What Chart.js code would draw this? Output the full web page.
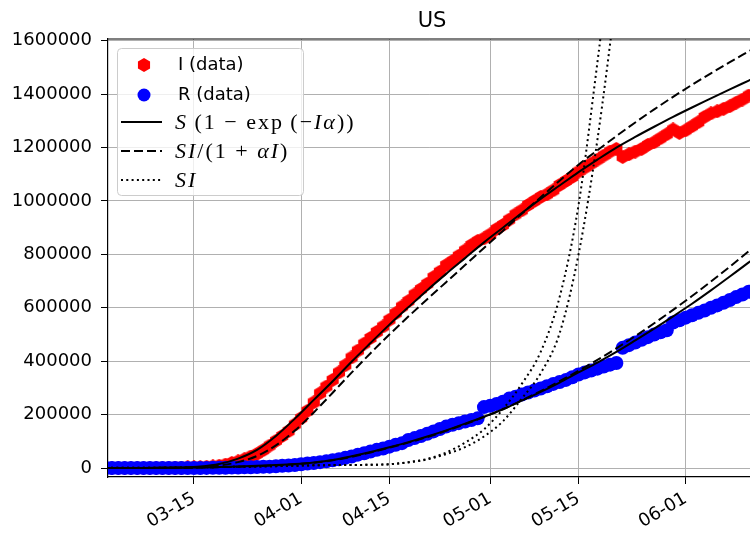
<!DOCTYPE html>
<html>
<head>
<meta charset="utf-8">
<title>US</title>
<script src="https://cdn.jsdelivr.net/npm/chart.js@4.4.1/dist/chart.umd.min.js"></script>
<style>
  html, body { margin: 0; padding: 0; background: #fff; }
  #wrap { width: 750px; height: 535px; }
</style>
</head>
<body>
<div id="wrap"><canvas id="chart" width="750" height="535"></canvas></div>
<script>
// day index 0 = 03-01, one value per day (03-01 .. 06-11)
const iData = [
    50, 70, 80, 100, 120, 160, 200, 300, 400, 500,
    900, 1200, 1600, 2100, 3000, 3700, 4500, 6300, 8800, 13000,
    19000, 25000, 33000, 43000, 53000, 67000, 84000, 102000, 120000, 138000,
    163000, 187000, 214000, 246000, 280000, 305000, 330000, 358000, 385000, 414000,
    440000, 466000, 487000, 510000, 530000, 555000, 580000, 605000, 625000, 650000,
    670000, 690000, 715000, 735000, 760000, 775000, 795000, 815000, 835000, 850000,
    860000, 875000, 895000, 910000, 930000, 950000, 965000, 985000, 1000000, 1015000,
    1025000, 1040000, 1060000, 1075000, 1090000, 1110000, 1125000, 1140000, 1155000, 1170000,
    1185000, 1195000, 1165000, 1175000, 1185000, 1195000, 1210000, 1220000, 1235000, 1250000,
    1268000, 1255000, 1265000, 1280000, 1295000, 1315000, 1328000, 1336000, 1345000, 1355000,
    1368000, 1380000, 1395000
];
const rData = [
    10, 10, 10, 10, 15, 20, 30, 40, 50, 60,
    80, 100, 120, 150, 200, 250, 350, 500, 650, 900,
    1500, 2000, 2500, 3000, 3500, 4500, 5000, 6500, 8000, 9500,
    11000, 14000, 17000, 19000, 22000, 25000, 29000, 33000, 38000, 43000,
    50000, 55000, 62000, 68000, 73000, 80000, 87000, 93000, 105000, 112000,
    120000, 128000, 137000, 146000, 155000, 162000, 168000, 174000, 180000, 186000,
    228000, 233000, 240000, 248000, 260000, 267000, 275000, 283000, 290000, 298000,
    306000, 315000, 322000, 330000, 340000, 350000, 358000, 365000, 372000, 380000,
    387000, 393000, 450000, 460000, 470000, 480000, 490000, 500000, 508000, 516000,
    545000, 553000, 563000, 572000, 581000, 590000, 600000, 609000, 619000, 629000,
    640000, 650000, 660000
];

// fitted curves, sampled every 3 days
const modelDays = [0, 3, 6, 9, 12, 15, 18, 21, 24, 27, 30, 33, 36, 39, 42, 45, 48, 51,
    54, 57, 60, 63, 66, 69, 72, 75, 78, 81, 84, 87, 90, 93, 96, 99, 102, 105];
const iExpFit = [0, 100, 300, 800, 2000, 5500, 15000, 35000, 68000, 120000, 185000, 255000,
    325000, 398000, 468000, 537000, 602000, 666000, 727000, 786000, 845000, 900000, 955000, 1008000,
    1058000, 1108000, 1155000, 1200000, 1240000, 1278000, 1315000, 1350000, 1384000, 1418000, 1451000, 1484000];
const iRatFit = [0, 50, 150, 400, 1000, 3000, 9000, 22000, 45000, 85000, 140000, 208000,
    282000, 357000, 430000, 500000, 567000, 632000, 696000, 760000, 824000, 888000, 952000, 1014000,
    1076000, 1136000, 1190000, 1243000, 1294000, 1343000, 1390000, 1435000, 1478000, 1520000, 1560000, 1600000];
const iLinFit = [500, 600, 800, 1200, 1800, 2500, 3500, 4500, 5500, 7000, 8500, 10000,
    11000, 11500, 12000, 14000, 22000, 34000, 58000, 95000, 145000, 220000, 315000, 435000,
    640000, 985000, 1520000, 2100000, null, null, null, null, null, null, null, null];
const rExpFit = [0, 100, 300, 600, 1200, 2000, 3500, 5500, 8000, 11000, 15000, 21000,
    30000, 44000, 60000, 78000, 97000, 118000, 141000, 166000, 192000, 220000, 252000, 285000,
    320000, 358000, 395000, 435000, 478000, 522000, 568000, 615000, 665000, 717000, 770000, 825000];
const rRatFit = [0, 80, 250, 500, 1000, 1700, 3000, 4800, 7000, 10000, 14000, 20000,
    29000, 42000, 58000, 76000, 95000, 116000, 139000, 164000, 191000, 220000, 253000, 288000,
    325000, 364000, 405000, 448000, 494000, 542000, 592000, 644000, 698000, 754000, 812000, 872000];
const rLinFit = [500, 600, 800, 1200, 1800, 2500, 3500, 4500, 5500, 7000, 8500, 10000,
    11000, 11500, 12000, 14000, 21000, 32000, 52000, 78000, 118000, 175000, 260000, 355000,
    505000, 800000, 1230000, 1780000, 2400000, null, null, null, null, null, null, null];

const tickDays = [14, 31, 45, 61, 75, 92];
const tickLabels = ['03-15', '04-01', '04-15', '05-01', '05-15', '06-01'];
const yTicks = [0, 200000, 400000, 600000, 800000, 1000000, 1200000, 1400000, 1600000];

Chart.defaults.font.family = '"DejaVu Sans", sans-serif';
Chart.defaults.font.size = 18;
Chart.defaults.color = '#000';

// matplotlib style 'h' marker
function hexagon(size, color) {
    const c = document.createElement('canvas');
    c.width = c.height = size;
    const g = c.getContext('2d');
    const r = size / 2;
    g.beginPath();
    for (let k = 0; k < 6; k++) {
        const a = Math.PI / 2 + k * Math.PI / 3;
        g.lineTo(r + r * Math.cos(a), r - r * Math.sin(a));
    }
    g.closePath();
    g.fillStyle = color;
    g.fill();
    return c;
}
const redHex = hexagon(14, '#ff0000');

function points(values) {
    return values.map((v, d) => ({ x: d, y: v }));
}
function curve(values) {
    return modelDays.map((d, k) => ({ x: d, y: values[k] }));
}
function fitLine(values, dash) {
    return {
        data: curve(values),
        borderColor: '#000',
        borderWidth: 2,
        borderDash: dash,
        pointRadius: 0,
        cubicInterpolationMode: 'monotone',
        fill: false
    };
}

// draws the math legend labels
function drawRuns(ctx, runs, x, y) {
    for (const [txt, it] of runs) {
        ctx.font = (it ? 'italic ' : '') + '22px "Liberation Serif", serif';
        ctx.fillText(txt, x, y);
        x += ctx.measureText(txt).width;
    }
}

// the axes box runs a few pixels past the right edge of the picture
const AXES_OVERHANG = 6;

const framePlugin = {
    id: 'frame',
    afterDraw(chart) {
        const { ctx, chartArea: a } = chart;
        ctx.save();
        ctx.strokeStyle = '#000';
        ctx.lineWidth = 1.2;
        ctx.beginPath();
        ctx.moveTo(a.left, a.top);
        ctx.lineTo(a.right, a.top);
        ctx.stroke();
        ctx.fillStyle = '#000';
        ctx.font = '21px "DejaVu Sans", sans-serif';
        ctx.textAlign = 'center';
        ctx.textBaseline = 'alphabetic';
        ctx.fillText('US', (a.left + a.right + AXES_OVERHANG) / 2, 27);
        ctx.restore();
    }
};

const legendPlugin = {
    id: 'boxLegend',
    afterDraw(chart) {
        const { ctx, chartArea: a } = chart;
        const x0 = a.left + 9, y0 = a.top + 9;
        ctx.save();
        ctx.beginPath();
        ctx.roundRect(x0 + 0.5, y0 + 0.5, 186, 147, 4);
        ctx.fillStyle = 'rgba(255,255,255,0.8)';
        ctx.fill();
        ctx.strokeStyle = '#cccccc';
        ctx.lineWidth = 1;
        ctx.stroke();

        ctx.fillStyle = '#000';
        ctx.textBaseline = 'middle';
        ctx.textAlign = 'left';

        // I (data)
        ctx.drawImage(redHex, x0 + 27 - 7, y0 + 17 - 7);
        ctx.font = '18px "DejaVu Sans", sans-serif';
        ctx.fillText('I (data)', x0 + 61, y0 + 17);

        // R (data)
        ctx.beginPath();
        ctx.arc(x0 + 27, y0 + 47, 6.5, 0, Math.PI * 2);
        ctx.fillStyle = '#0000ff';
        ctx.fill();
        ctx.fillStyle = '#000';
        ctx.fillText('R (data)', x0 + 61, y0 + 47);

        const rows = [
            { y: 74, dash: [], runs: [['S', 1], ['\u2009(1 \u2212 exp\u2009(\u2212', 0], ['I\u03b1', 1], ['))', 0]] },
            { y: 103, dash: [9, 4], runs: [['SI', 1], ['/(1 + ', 0], ['\u03b1I', 1], [')', 0]] },
            { y: 132, dash: [2, 3.3], runs: [['SI', 1]] }
        ];
        ctx.strokeStyle = '#000';
        ctx.lineWidth = 2;
        ctx.letterSpacing = '2px';
        for (const row of rows) {
            ctx.setLineDash(row.dash);
            ctx.beginPath();
            ctx.moveTo(x0 + 4, y0 + row.y);
            ctx.lineTo(x0 + 45, y0 + row.y);
            ctx.stroke();
            drawRuns(ctx, row.runs, x0 + 58, y0 + row.y + 1);
        }
        ctx.restore();
    }
};

new Chart(document.getElementById('chart'), {
    type: 'line',
    data: {
        datasets: [
            fitLine(iExpFit, []),
            fitLine(iRatFit, [9, 4]),
            fitLine(iLinFit, [2, 3.3]),
            fitLine(rExpFit, []),
            fitLine(rRatFit, [9, 4]),
            fitLine(rLinFit, [2, 3.3]),
            {
                label: 'R (data)',
                data: points(rData),
                showLine: false,
                pointRadius: 7,
                pointBorderWidth: 0,
                pointBackgroundColor: '#0000ff',
                borderColor: '#0000ff'
            },
            {
                label: 'I (data)',
                data: points(iData),
                showLine: false,
                pointStyle: redHex,
                pointBackgroundColor: '#ff0000',
                borderColor: '#ff0000'
            }
        ]
    },
    options: {
        responsive: false,
        animation: false,
        events: [],
        layout: { autoPadding: false, padding: { top: 39, right: 0, left: 0, bottom: 0 } },
        plugins: {
            legend: { display: false },
            tooltip: { enabled: false },
            title: { display: false }
        },
        scales: {
            x: {
                type: 'linear',
                min: 0.36,
                max: 102.2,
                afterBuildTicks: (scale) => { scale.ticks = tickDays.map(v => ({ value: v })); },
                afterFit: (scale) => {
                    scale.height = 58;
                    scale.paddingLeft = 0;
                    scale.paddingRight = 0;
                },
                ticks: {
                    autoSkip: false,
                    minRotation: 30,
                    maxRotation: 30,
                    padding: 4,
                    callback: (value, index) => tickLabels[index]
                },
                grid: { color: '#b0b0b0', lineWidth: 1, tickColor: '#000', tickLength: 7 },
                border: { color: '#000', width: 1.2 }
            },
            y: {
                min: -33700,
                max: 1606600,
                afterBuildTicks: (scale) => { scale.ticks = yTicks.map(v => ({ value: v })); },
                afterFit: (scale) => {
                    scale.width = 108;
                    scale.paddingTop = 0;
                    scale.paddingBottom = 0;
                },
                ticks: {
                    padding: 9,
                    callback: (value) => String(value)
                },
                grid: { color: '#b0b0b0', lineWidth: 1, tickColor: '#000', tickLength: 7 },
                border: { color: '#000', width: 1.2 }
            }
        }
    },
    plugins: [framePlugin, legendPlugin]
});
</script>
</body>
</html>
